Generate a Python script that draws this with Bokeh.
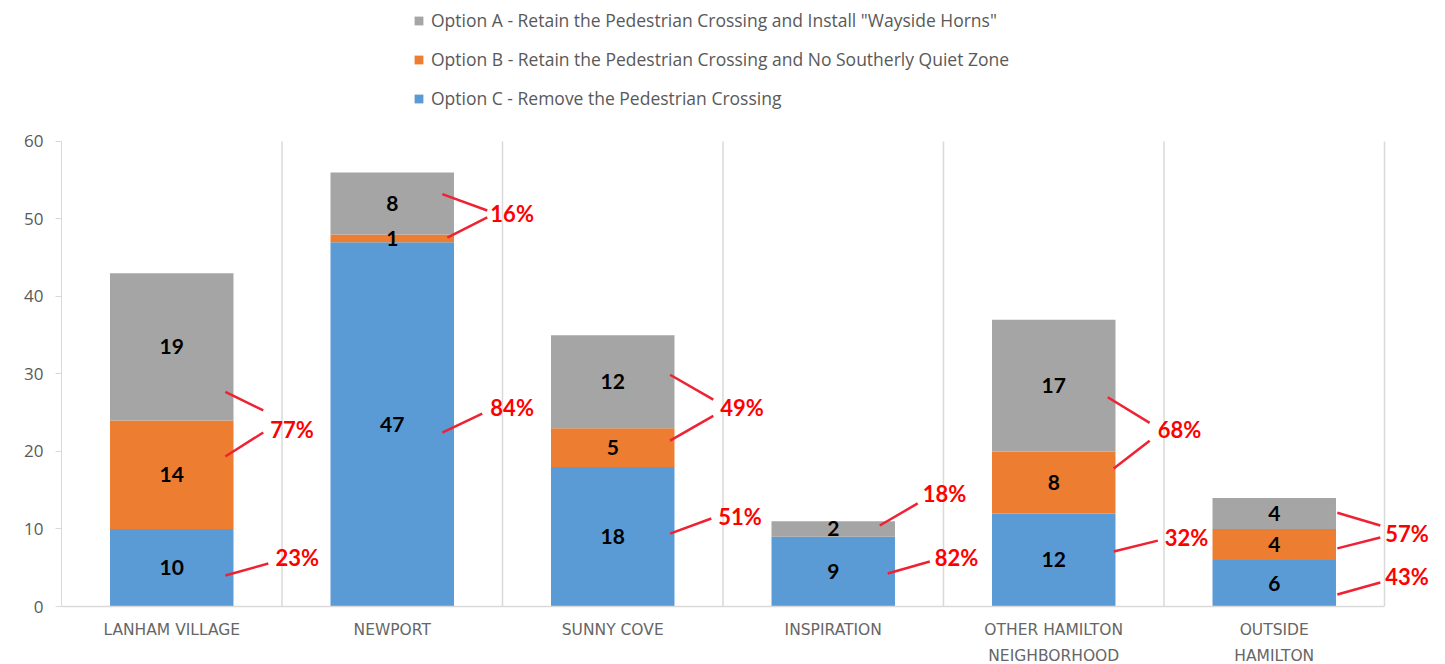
from bokeh.plotting import figure
from bokeh.models import (ColumnDataSource, FixedTicker, Legend, LegendItem,
                          LabelSet, Range1d)
from bokeh.embed import file_html
from bokeh.resources import INLINE
from bokeh.core.properties import value

# ---------------- data ----------------
categories = ["LANHAM VILLAGE", "NEWPORT", "SUNNY COVE", "INSPIRATION",
              "OTHER HAMILTON\nNEIGHBORHOOD", "OUTSIDE\nHAMILTON"]
option_c = [10, 47, 18, 9, 12, 6]
option_b = [14, 1, 5, 0, 8, 4]
option_a = [19, 8, 12, 2, 17, 4]
name_a = 'Option A - Retain the Pedestrian Crossing and Install "Wayside Horns"'
name_b = "Option B - Retain the Pedestrian Crossing and No Southerly Quiet Zone"
name_c = "Option C - Remove the Pedestrian Crossing"
y_ticks = [0, 10, 20, 30, 40, 50, 60]

# ------------- annotation layout (callout placement) -------------
lab_y_c = [6.3, 25.7, 11.6, 6.3, 8.9, 3.9]
lab_y_ab = [22.8, 50.7, 25.7, 14.6, 22.8, 9.4]
lab_dx_c = [0.47, 0.445, 0.478, 0.46, 0.503, 0.503]
lab_dx_ab = [0.447, 0.445, 0.488, 0.406, 0.472, 0.503]
# leader lines: (category index, x0 offset, y0, x1 offset, y1)
leaders = [
    (0, 0.243, 4.0, 0.438, 5.55), (0, 0.243, 27.7, 0.415, 25.3), (0, 0.243, 19.35, 0.415, 22.45),
    (1, 0.227, 22.45, 0.408, 24.9), (1, 0.227, 53.2, 0.431, 51.1), (1, 0.25, 47.6, 0.431, 50.2),
    (2, 0.26, 9.4, 0.447, 11.35), (2, 0.26, 29.9, 0.456, 26.7), (2, 0.26, 21.4, 0.456, 24.6),
    (3, 0.247, 4.25, 0.438, 5.8), (3, 0.211, 10.45, 0.383, 13.3),
    (4, 0.272, 7.1, 0.472, 8.5), (4, 0.245, 27.0, 0.435, 23.7), (4, 0.272, 17.8, 0.435, 21.4),
    (5, 0.286, 1.55, 0.481, 3.1), (5, 0.286, 12.1, 0.481, 10.45), (5, 0.286, 7.5, 0.481, 8.9),
]

COL_A, COL_B, COL_C = "#A5A5A5", "#ED7D31", "#5B9BD5"
RED = "#FF0000"
GRID = "#D9D9D9"
TXT = "#595959"

n = len(categories)
xs = [i + 0.5 for i in range(n)]
bw = 0.56
y_max = y_ticks[-1]

p = figure(frame_width=1379, frame_height=606,
           x_range=Range1d(0, 6.254), y_range=Range1d(0, 78.19),
           output_backend="svg", toolbar_location=None,
           min_border_left=61, min_border_right=5, min_border_top=0,
           min_border_bottom=0)
p.outline_line_color = None
p.background_fill_color = "white"
p.border_fill_color = "white"

# category separators (vertical rules between categories)
p.segment(x0=list(range(1, n + 1)), y0=[0] * n, x1=list(range(1, n + 1)),
          y1=[y_max] * n, line_color=GRID, line_width=1.5)

# stacked bars
b_bot = option_c
a_bot = [c + b for c, b in zip(option_c, option_b)]
a_top = [ab + a for ab, a in zip(a_bot, option_a)]
src = ColumnDataSource(dict(x=xs, c_top=option_c, b_bot=b_bot, b_top=a_bot,
                            a_bot=a_bot, a_top=a_top))
r_c = p.vbar(x="x", width=bw, bottom=0, top="c_top", source=src,
             fill_color=COL_C, line_color=None)
r_b = p.vbar(x="x", width=bw, bottom="b_bot", top="b_top", source=src,
             fill_color=COL_B, line_color=None)
r_a = p.vbar(x="x", width=bw, bottom="a_bot", top="a_top", source=src,
             fill_color=COL_A, line_color=None)

# value labels inside segments
lx, ly, lt = [], [], []
for i in range(n):
    segs = [(0, option_c[i]), (b_bot[i], option_b[i]), (a_bot[i], option_a[i])]
    for bot, v in segs:
        if v > 0:
            lx.append(xs[i]); ly.append(bot + v / 2); lt.append(str(v))
p.text(x=lx, y=ly, text=lt, text_align="center", text_baseline="middle",
       text_font=value("Lato"), text_font_style="bold", text_font_size="21px",
       text_color="black")

# leader lines
p.segment(x0=[xs[c] + d0 for c, d0, _, _, _ in leaders],
          y0=[y0 for _, _, y0, _, _ in leaders],
          x1=[xs[c] + d1 for c, _, _, d1, _ in leaders],
          y1=[y1 for _, _, _, _, y1 in leaders],
          line_color="#EE2233", line_width=2.5)

# percentage callouts
totals = [a + b + c for a, b, c in zip(option_a, option_b, option_c)]
pct_c = [f"{round(100 * c / t)}%" for c, t in zip(option_c, totals)]
pct_ab = [f"{round(100 * (a + b) / t)}%" for a, b, t in zip(option_a, option_b, totals)]
psrc = ColumnDataSource(dict(
    x=[xs[i] + lab_dx_c[i] for i in range(n)] + [xs[i] + lab_dx_ab[i] for i in range(n)],
    y=lab_y_c + lab_y_ab,
    t=pct_c + pct_ab))
p.add_layout(LabelSet(x="x", y="y", text="t", source=psrc,
                      text_align="left", text_baseline="middle",
                      text_font=value("Lato"), text_font_style="bold",
                      text_font_size="22px", text_color=RED))

# axes
p.xaxis.ticker = FixedTicker(ticks=xs)
p.xaxis.bounds = (0, n)
p.xaxis.major_label_overrides = {x: c for x, c in zip(xs, categories)}
p.xaxis.major_label_text_font = "DejaVu Sans"
p.xaxis.major_label_text_font_size = "15.5px"
p.xaxis.major_label_text_color = "#666666"
p.xaxis.major_label_text_line_height = 1.45
p.xaxis.major_label_standoff = 8
p.xaxis.major_tick_line_color = None
p.xaxis.minor_tick_line_color = None
p.xaxis.axis_line_color = GRID
p.xaxis.axis_line_width = 1.5

p.yaxis.ticker = FixedTicker(ticks=y_ticks)
p.yaxis.bounds = (0, y_max)
p.yaxis.major_label_text_font = "Open Sans"
p.yaxis.major_label_text_font_size = "17px"
p.yaxis.major_label_text_color = TXT
p.yaxis.major_tick_in = 0
p.yaxis.major_tick_out = 6
p.yaxis.major_tick_line_color = GRID
p.yaxis.minor_tick_line_color = None
p.yaxis.axis_line_color = GRID
p.yaxis.major_label_standoff = 12

p.xgrid.grid_line_color = None
p.ygrid.grid_line_color = None

# legend
legend = Legend(items=[LegendItem(label=name_a, renderers=[r_a]),
                       LegendItem(label=name_b, renderers=[r_b]),
                       LegendItem(label=name_c, renderers=[r_c])],
                location=(352, 496), orientation="vertical",
                glyph_width=11, glyph_height=11, label_height=20,
                spacing=15, padding=0, margin=0, label_standoff=7,
                label_text_font="Open Sans", label_text_font_size="17.5px",
                label_text_color=TXT, border_line_color=None,
                background_fill_alpha=0)
p.add_layout(legend)

open("out.html", "w").write(file_html(p, INLINE))
